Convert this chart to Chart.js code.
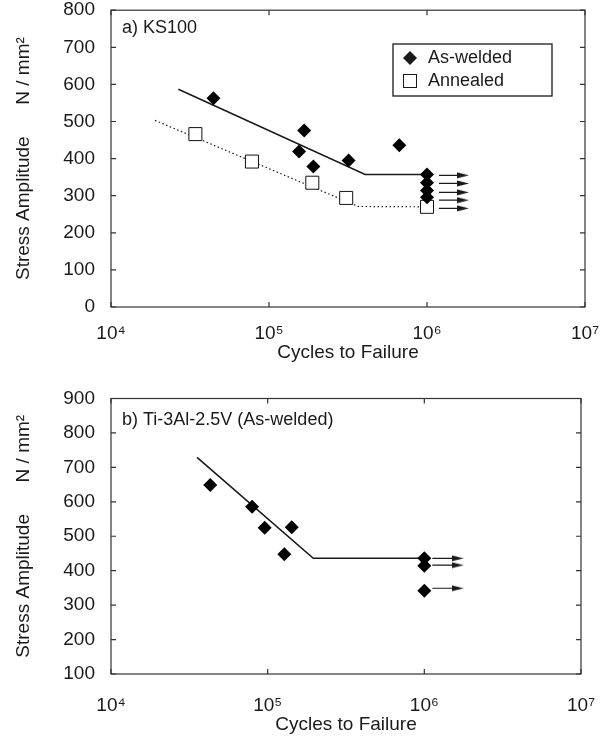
<!DOCTYPE html>
<html>
<head>
<meta charset="utf-8">
<script src="https://cdn.jsdelivr.net/npm/chart.js@4.4.1/dist/chart.umd.min.js"></script>
<style>
  html, body { margin: 0; padding: 0; background: #fff; }
  .panel { position: relative; width: 607px; }
  #wrapA { height: 370px; }
  #wrapB { height: 367px; }
</style>
</head>
<body>
<div class="panel" id="wrapA"><canvas id="chartA"></canvas></div>
<div class="panel" id="wrapB"><canvas id="chartB"></canvas></div>
<script>
// ---- data ----
const decadeTicks = [1e4, 1e5, 1e6, 1e7];
const decadeLabels = ['10\u2074', '10\u2075', '10\u2076', '10\u2077'];

// a) KS100
const weldedCyclesA = [44500, 167000, 155000, 191000, 319000, 668000, 1e6, 1e6, 1e6, 1e6];
const weldedStressA = [563, 476, 419, 379, 395, 436, 357, 335, 314, 296];
const annealedCyclesA = [34200, 78000, 188000, 308000, 1e6];
const annealedStressA = [466, 392, 335, 294, 270];
const weldedFitCyclesA = [26700, 406000, 1e6];
const weldedFitStressA = [587, 357, 357];
const annealedFitCyclesA = [19000, 367000, 1e6];
const annealedFitStressA = [503, 271, 270];
const runoutStressA = [355, 333, 309, 288, 266];
const runoutCyclesA = [1.19e6, 1.69e6];

// b) Ti-3Al-2.5V (As-welded)
const weldedCyclesB = [43000, 79600, 95700, 142500, 127700, 1e6, 1e6, 1e6];
const weldedStressB = [649, 586, 525, 526, 448, 436, 414, 342];
const weldedFitCyclesB = [35400, 195500, 1e6];
const weldedFitStressB = [729, 436, 436];
const runoutStressB = [436, 416, 349];
const runoutCyclesB = [1.125e6, 1.63e6];

const FONT = "'Liberation Sans', Arial, sans-serif";
const INK = '#1a1a1a';

const pts = (xs, ys) => xs.map((x, i) => ({ x: x, y: ys[i] }));

// small arrow head used as the end point style of run-out arrows
const arrowHead = document.createElement('canvas');
arrowHead.width = 12;
arrowHead.height = 7;
{
  const c = arrowHead.getContext('2d');
  c.fillStyle = INK;
  c.beginPath();
  c.moveTo(0, 0.5);
  c.lineTo(12, 3.5);
  c.lineTo(0, 6.5);
  c.closePath();
  c.fill();
}

function runoutSets(stresses, cycles) {
  return stresses.map(s => ({
    data: pts(cycles, [s, s]),
    showLine: true,
    borderColor: INK,
    borderWidth: 1.2,
    pointStyle: [false, arrowHead],
    pointRadius: [0, 5],
    order: 3
  }));
}

// frame, inward ticks, panel label and legend
const decor = {
  id: 'decor',
  afterDatasetsDraw(chart, args, opts) {
    const { ctx, chartArea: a, scales } = chart;
    ctx.save();
    ctx.strokeStyle = '#333';
    ctx.lineWidth = 1.2;
    ctx.strokeRect(a.left, a.top, a.right - a.left, a.bottom - a.top);
    const tl = 5;
    ctx.beginPath();
    scales.x.ticks.forEach(t => {
      const px = scales.x.getPixelForValue(t.value);
      ctx.moveTo(px, a.bottom); ctx.lineTo(px, a.bottom - tl);
      ctx.moveTo(px, a.top); ctx.lineTo(px, a.top + tl);
    });
    scales.y.ticks.forEach(t => {
      const py = scales.y.getPixelForValue(t.value);
      ctx.moveTo(a.left, py); ctx.lineTo(a.left + tl, py);
      ctx.moveTo(a.right, py); ctx.lineTo(a.right - tl, py);
    });
    ctx.stroke();

    ctx.fillStyle = INK;
    ctx.font = '18px ' + FONT;
    ctx.textBaseline = 'middle';
    ctx.textAlign = 'left';
    ctx.fillText(opts.label, a.left + 11, a.top + opts.labelDy);

    if (opts.legend) {
      const L = opts.legend;
      ctx.lineWidth = 1.3;
      ctx.strokeStyle = INK;
      ctx.strokeRect(L.x, L.y, L.w, L.h);
      // diamond
      const dx = L.x + 17, dy = L.y + 14;
      ctx.beginPath();
      ctx.moveTo(dx, dy - 7); ctx.lineTo(dx + 7, dy); ctx.lineTo(dx, dy + 7); ctx.lineTo(dx - 7, dy);
      ctx.closePath();
      ctx.fill();
      ctx.fillText('As-welded', L.x + 35, dy);
      // square
      const sy = L.y + 37;
      ctx.lineWidth = 1;
      ctx.strokeRect(dx - 6.5, sy - 6.5, 13, 13);
      ctx.fillText('Annealed', L.x + 35, sy);
    }
    ctx.restore();
  }
};

function makeChart(id, cfg) {
  return new Chart(document.getElementById(id), {
    type: 'scatter',
    data: { datasets: cfg.datasets },
    options: {
      responsive: true,
      maintainAspectRatio: false,
      animation: false,
      layout: { padding: { top: cfg.padTop, right: 22, left: 0, bottom: 0 } },
      plugins: {
        legend: { display: false },
        tooltip: { enabled: false },
        decor: { label: cfg.label, labelDy: cfg.labelDy, legend: cfg.legend }
      },
      scales: {
        x: {
          type: 'logarithmic',
          min: 1e4,
          max: 1e7,
          afterBuildTicks: s => { s.ticks = decadeTicks.map(v => ({ value: v })); },
          afterFit: s => { s.height = 63; },
          grid: { display: false },
          border: { display: false },
          ticks: {
            autoSkip: false,
            maxRotation: 0,
            padding: cfg.xTickPad,
            color: INK,
            font: { family: FONT, size: 19 },
            callback: v => decadeLabels[decadeTicks.indexOf(v)]
          },
          title: {
            display: true,
            text: 'Cycles to Failure',
            color: INK,
            font: { family: FONT, size: 19 },
            padding: { top: 0, bottom: cfg.xTitlePad }
          }
        },
        y: {
          min: cfg.yMin,
          max: cfg.yMax,
          afterFit: s => { s.width = 111; s.paddingTop = 0; s.paddingBottom = 0; },
          grid: { display: false },
          border: { display: false },
          ticks: {
            stepSize: 100,
            padding: 8,
            color: INK,
            font: { family: FONT, size: 19 }
          },
          title: {
            display: true,
            text: 'Stress Amplitude      N / mm\u00b2',
            color: INK,
            font: { family: FONT, size: 19 },
            padding: { top: 12.5, bottom: 0 }
          }
        }
      }
    },
    plugins: [decor]
  });
}

makeChart('chartA', {
  padTop: 9.5,
  yMin: 0, yMax: 800,
  xTickPad: 7, xTitlePad: 6,
  label: 'a) KS100',
  labelDy: 17.5,
  legend: { x: 393, y: 44, w: 159, h: 52 },
  datasets: [
    { data: pts(weldedCyclesA, weldedStressA), pointStyle: 'rectRot', pointRadius: 7,
      backgroundColor: '#000', borderColor: '#000', borderWidth: 0, order: 0 },
    { data: pts(annealedCyclesA, annealedStressA), pointStyle: 'rect', pointRadius: 9.2,
      backgroundColor: '#fff', borderColor: '#111', borderWidth: 1, order: 1 },
    { data: pts(weldedFitCyclesA, weldedFitStressA), showLine: true, pointRadius: 0,
      borderColor: INK, borderWidth: 1.6, order: 2 },
    { data: pts(annealedFitCyclesA, annealedFitStressA), showLine: true, pointRadius: 0,
      borderColor: INK, borderWidth: 1.2, borderDash: [1.5, 2.5], order: 2 },
    ...runoutSets(runoutStressA, runoutCyclesA)
  ]
});

makeChart('chartB', {
  padTop: 28.5,
  yMin: 100, yMax: 900,
  xTickPad: 12, xTitlePad: 0.5,
  label: 'b) Ti-3Al-2.5V (As-welded)',
  labelDy: 22,
  legend: null,
  datasets: [
    { data: pts(weldedCyclesB, weldedStressB), pointStyle: 'rectRot', pointRadius: 7,
      backgroundColor: '#000', borderColor: '#000', borderWidth: 0, order: 0 },
    { data: pts(weldedFitCyclesB, weldedFitStressB), showLine: true, pointRadius: 0,
      borderColor: INK, borderWidth: 1.6, order: 2 },
    ...runoutSets(runoutStressB, runoutCyclesB)
  ]
});
</script>
</body>
</html>
